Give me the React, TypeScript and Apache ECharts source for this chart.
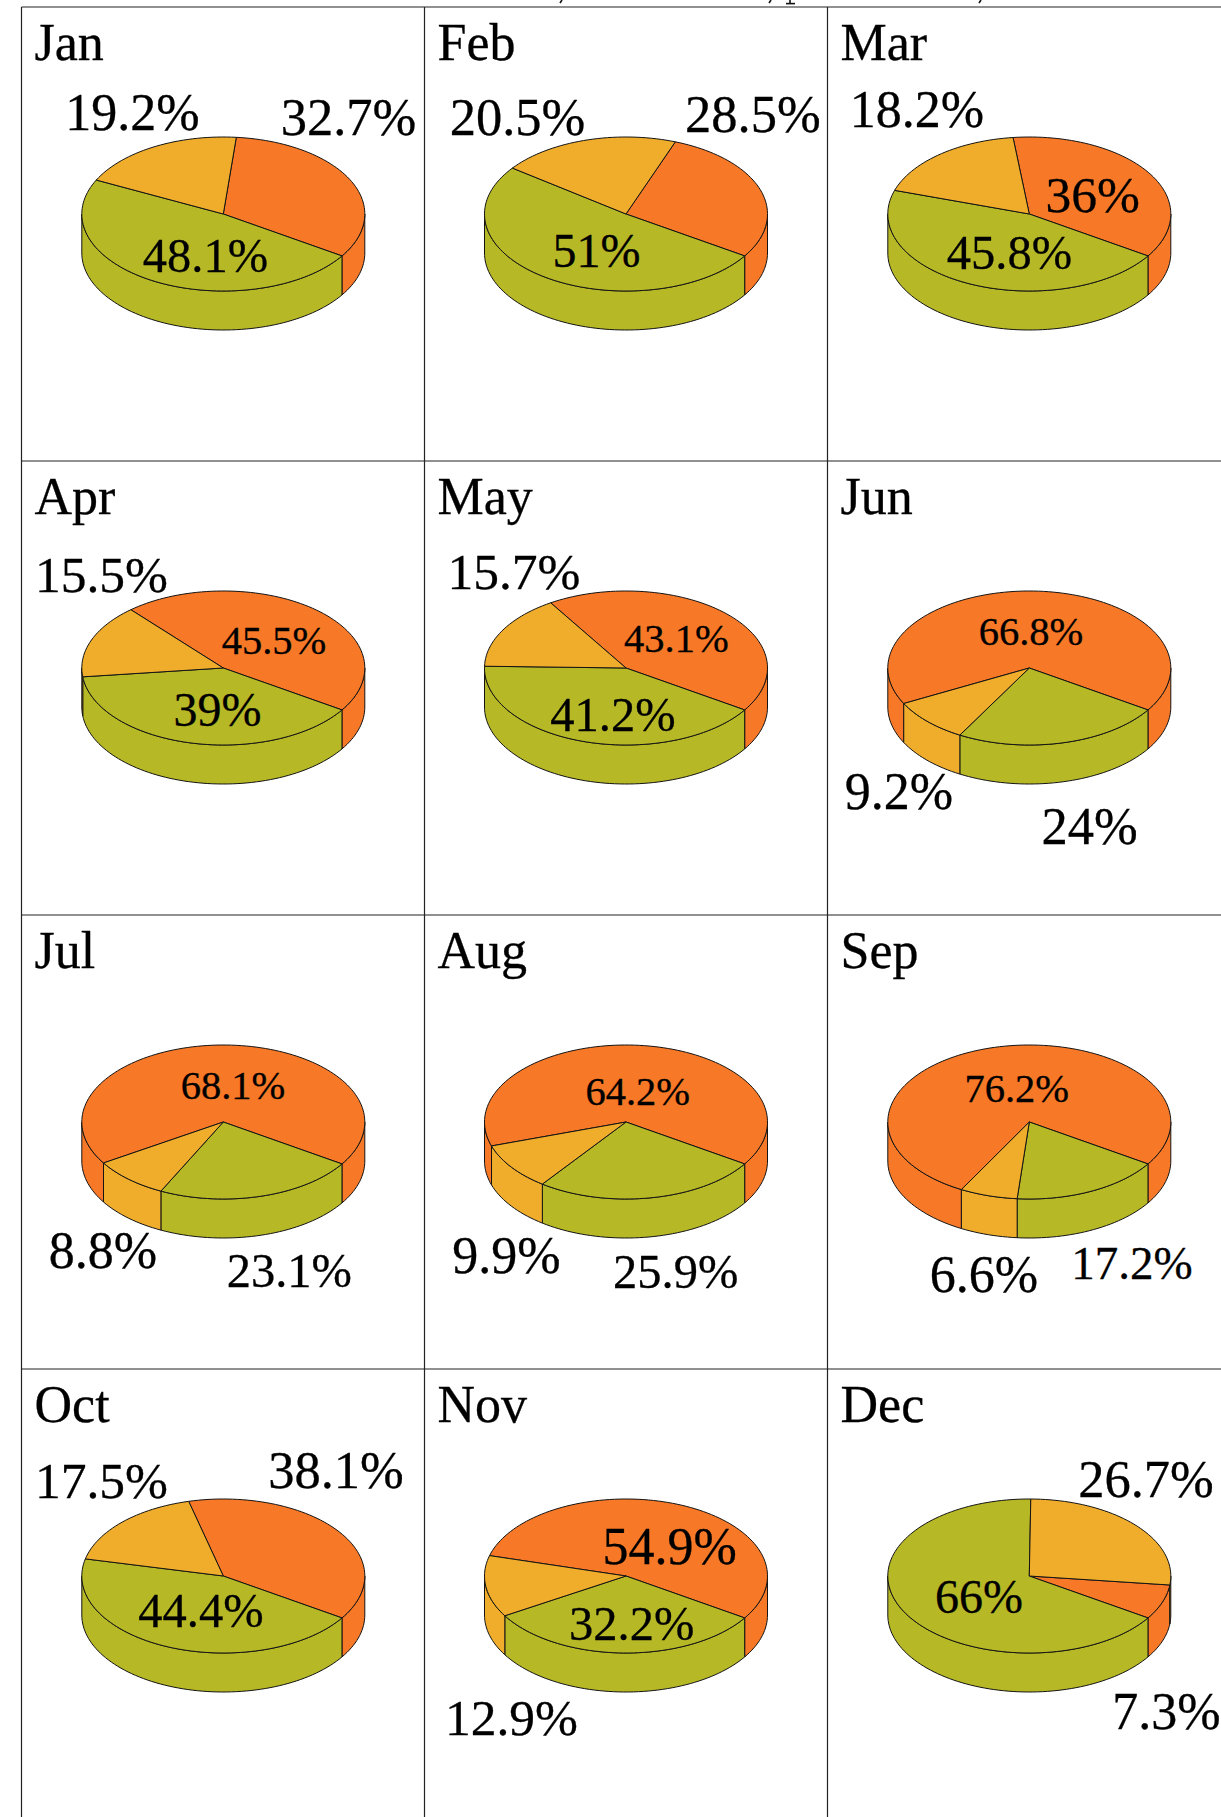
import React, { useEffect, useRef } from "react";
import * as echarts from "echarts";

const months = ["Jan", "Feb", "Mar", "Apr", "May", "Jun", "Jul", "Aug", "Sep", "Oct", "Nov", "Dec"];
const orangeShare = [32.7, 28.5, 36, 45.5, 43.1, 66.8, 68.1, 64.2, 76.2, 38.1, 54.9, 7.3];
const greenShare = [48.1, 51, 45.8, 39, 41.2, 24, 23.1, 25.9, 17.2, 44.4, 32.2, 66];
const yellowShare = [19.2, 20.5, 18.2, 15.5, 15.7, 9.2, 8.8, 9.9, 6.6, 17.5, 12.9, 26.7];

// Placement of the value labels, per month: [orange, green, yellow], each [x, y, fontSize].
type Place = [number, number, number];
const labelPlacement: Place[][] = [
  [[348.5, 117, 52.5], [205.5, 255.5, 48.5], [132.3, 112.5, 52]],
  [[752.9, 114, 52.5], [596.6, 250, 48], [517.5, 117, 52.5]],
  [[1092.6, 194, 51.5], [1009.5, 252, 48.5], [917, 109, 52]],
  [[274, 640.5, 40.5], [217.5, 709, 48], [101.5, 574, 51.5]],
  [[676.4, 638, 40.5], [612.9, 714.5, 48.5], [514, 571, 51.5]],
  [[1031, 631, 40.5], [1089.5, 826, 52.5], [899, 791, 52]],
  [[233, 1085, 40.5], [289.3, 1270, 48.5], [103, 1250.5, 52]],
  [[637.7, 1091.7, 40.5], [675.7, 1271.7, 48.5], [506.5, 1255, 52]],
  [[1016.7, 1088, 40.5], [1132, 1262.7, 47], [984, 1274, 52]],
  [[336, 1470, 52.5], [201, 1610, 48.5], [101.5, 1480, 51.5]],
  [[669.6, 1546.5, 52], [631.7, 1623, 48.5], [511.5, 1717, 51.5]],
  [[1166.3, 1711, 52], [979, 1596.7, 48], [1146, 1478.5, 52.5]],
];

// Ink left at the top edge of the page by a heading line that the page cuts off.
const clippedHeadingInk: number[][][] = [
  [[562, 0], [560, 3]],
  [[771, 0], [769, 3]],
  [[790, 0], [790, 3.5]],
  [[786, 3.6], [795, 3.6]],
  [[981, 0], [979, 3]],
];

const PAGE_W = 1221;
const PAGE_H = 1817;
const COL_X = [21.5, 424.5, 827.5];
const ROW_Y = [7, 461, 915, 1369];
const PIE_CENTER_X = [223.3, 626, 1029.3];
const PIE_CENTER_DY = 207;
const RX = 141.5;
const RY = 77;
const DEPTH = 39;
const GREEN_START = 123; // degrees clockwise from north
const COLORS = ["#F77826", "#B7B825", "#F0AD2B"];
const FONT = '"Liberation Serif", "Times New Roman", serif';
const EDGE = "#141414";

function arcPoints(a: number, b: number, cx: number, cy: number) {
  const n = Math.max(2, Math.ceil(Math.abs(b - a) / 2));
  const pts: number[][] = [];
  for (let i = 0; i <= n; i++) {
    const t = ((a + ((b - a) * i) / n) * Math.PI) / 180;
    pts.push([cx + RX * Math.sin(t), cy - RY * Math.cos(t)]);
  }
  return pts;
}

function renderPie(params: any, api: any) {
  const i = api.value(0) as number;
  const shares = [api.value(1), api.value(2), api.value(3)] as number[];
  const col = i % 3;
  const row = Math.floor(i / 3);
  const [cx, cy] = api.coord([PIE_CENTER_X[col], ROW_Y[row] + PIE_CENTER_DY]);

  const start = GREEN_START - shares[0] * 3.6;
  const spans: [number, number][] = [];
  let a = start;
  for (const s of shares) {
    spans.push([a, a + s * 3.6]);
    a += s * 3.6;
  }

  const children: any[] = [];
  // walls first
  spans.forEach(([s, e], k) => {
    for (const shift of [-360, 0, 360]) {
      const lo = Math.max(s + shift, 90);
      const hi = Math.min(e + shift, 270);
      if (hi - lo > 0.01) {
        const top = arcPoints(lo, hi, cx, cy);
        const bottom = top.map(([x, y]) => [x, y + DEPTH]).reverse();
        children.push({
          type: "polygon",
          shape: { points: top.concat(bottom) },
          style: { fill: COLORS[k], stroke: EDGE, lineWidth: 1, lineJoin: "round" },
        });
      }
    }
  });
  // top face
  spans.forEach(([s, e], k) => {
    children.push({
      type: "polygon",
      shape: { points: [[cx, cy] as number[]].concat(arcPoints(s, e, cx, cy)) },
      style: { fill: COLORS[k], stroke: EDGE, lineWidth: 1, lineJoin: "round" },
    });
  });
  // labels
  labelPlacement[i].forEach(([x, y, size], k) => {
    const [px, py] = api.coord([x, y]);
    children.push({
      type: "text",
      style: {
        x: px,
        y: py,
        text: `${shares[k]}%`,
        fill: "#000",
        stroke: "#000",
        lineWidth: 0.3,
        font: `${size}px ${FONT}`,
        align: "center",
        verticalAlign: "middle",
      },
    });
  });
  // month name
  children.push({
    type: "text",
    style: {
      x: COL_X[col] + 13,
      y: ROW_Y[row] + 35,
      text: months[i],
      fill: "#000",
      stroke: "#000",
      lineWidth: 0.3,
      font: `52px ${FONT}`,
      align: "left",
      verticalAlign: "middle",
    },
  });
  return { type: "group", children };
}

export default function App() {
  const ref = useRef<HTMLDivElement>(null);
  useEffect(() => {
    const chart = echarts.init(ref.current!, null, { renderer: "svg" });
    const marks: any[] = [];
    COL_X.forEach((x) =>
      marks.push({ type: "line", shape: { x1: x, y1: ROW_Y[0], x2: x, y2: PAGE_H }, style: { stroke: "#222", lineWidth: 1.2 } })
    );
    ROW_Y.forEach((y) =>
      marks.push({ type: "line", shape: { x1: COL_X[0], y1: y, x2: PAGE_W, y2: y }, style: { stroke: "#222", lineWidth: 1.2 } })
    );
    clippedHeadingInk.forEach(([[x1, y1], [x2, y2]]) =>
      marks.push({ type: "line", shape: { x1, y1, x2, y2 }, style: { stroke: "#111", lineWidth: 1.6 } })
    );
    chart.setOption({
      animation: false,
      backgroundColor: "#fff",
      grid: { left: 0, right: 0, top: 0, bottom: 0 },
      xAxis: { type: "value", min: 0, max: PAGE_W, show: false },
      yAxis: { type: "value", min: 0, max: PAGE_H, inverse: true, show: false },
      graphic: marks,
      series: [
        {
          type: "custom",
          coordinateSystem: "cartesian2d",
          clip: false,
          renderItem: renderPie,
          data: months.map((_, i) => [i, orangeShare[i], greenShare[i], yellowShare[i]]),
        },
      ],
    });
    return () => chart.dispose();
  }, []);
  return (
    <div
      ref={ref}
      style={{ position: "absolute", left: 0, top: 0, width: PAGE_W, height: PAGE_H }}
    />
  );
}
